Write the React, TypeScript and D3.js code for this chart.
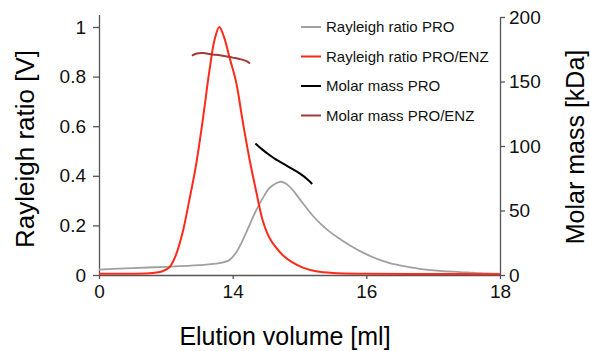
// App.tsx
import React, { useEffect, useRef } from 'react';
import * as d3 from 'd3';

// Elution volume [ml], Rayleigh ratio [V]
const rayleighPro: [number, number][] = [
  [12.0, 0.022], [12.5, 0.028], [13.0, 0.033], [13.5, 0.04], [13.8, 0.048],
  [13.95, 0.06], [14.05, 0.09], [14.15, 0.14], [14.25, 0.2], [14.35, 0.26],
  [14.45, 0.31], [14.55, 0.35], [14.65, 0.37], [14.72, 0.376], [14.8, 0.368],
  [14.9, 0.342], [15.0, 0.307], [15.1, 0.272], [15.2, 0.239], [15.32, 0.205],
  [15.45, 0.175], [15.6, 0.146], [15.75, 0.12], [15.95, 0.09], [16.15, 0.066],
  [16.35, 0.048], [16.6, 0.034], [16.8, 0.025], [17.1, 0.017], [17.4, 0.012],
  [17.7, 0.007], [18.0, 0.004],
];

const rayleighProEnz: [number, number][] = [
  [12.0, 0.005], [12.5, 0.005], [12.8, 0.008], [12.95, 0.015], [13.05, 0.03],
  [13.15, 0.08], [13.25, 0.17], [13.35, 0.3], [13.45, 0.44], [13.55, 0.62],
  [13.65, 0.82], [13.73, 0.95], [13.8, 1.0], [13.87, 0.96], [13.95, 0.88],
  [14.05, 0.78], [14.15, 0.62], [14.25, 0.47], [14.35, 0.34], [14.45, 0.22],
  [14.55, 0.15], [14.65, 0.11], [14.75, 0.08], [14.9, 0.05], [15.05, 0.03],
  [15.25, 0.015], [15.5, 0.008], [16.0, 0.005], [17.0, 0.004], [18.0, 0.003],
];

// Elution volume [ml], molar mass [kDa]
const molarPro: [number, number][] = [
  [14.34, 102], [14.45, 97], [14.55, 93], [14.65, 89.5], [14.75, 86.5],
  [14.85, 83.5], [14.95, 80.5], [15.05, 77], [15.12, 74], [15.19, 70.5],
];

const molarProEnz: [number, number][] = [
  [13.39, 170], [13.45, 171.5], [13.55, 172], [13.7, 171], [13.85, 170],
  [14.0, 168.5], [14.1, 167.5], [14.2, 166], [14.26, 164],
];

const xTicks = [12, 14, 16, 18];
const xTickLabels = ['0', '14', '16', '18'];
const leftTicks = [0, 0.2, 0.4, 0.6, 0.8, 1];
const rightTicks = [0, 50, 100, 150, 200];

const legendLabels = ['Rayleigh ratio PRO', 'Rayleigh ratio PRO/ENZ', 'Molar mass PRO', 'Molar mass PRO/ENZ'];
const legendColors = ['#a0a0a0', '#ff2a1a', '#000000', '#a33a35'];

const App = () => {
  const chartRef = useRef<HTMLDivElement>(null);

  useEffect(() => {
    d3.select(chartRef.current).selectAll('*').remove();

    const width = 590;
    const height = 351;
    const font = 'Arial, "Liberation Sans", sans-serif';
    const axisColor = '#555';

    const x = d3.scaleLinear().domain([12, 18]).range([99, 500]);
    const yLeft = d3.scaleLinear().domain([0, 1.05]).range([275, 14.6]);
    const yRight = d3.scaleLinear().domain([0, 200]).range([275, 17]);

    const svg = d3
      .select(chartRef.current)
      .append('svg')
      .attr('width', width)
      .attr('height', height)
      .style('font-family', font);

    // Axes
    const xAxis = svg
      .append('g')
      .attr('transform', 'translate(0,275)')
      .call(
        d3.axisBottom(x)
          .tickValues(xTicks)
          .tickFormat((d, i) => xTickLabels[i])
          .tickSize(4)
          .tickSizeOuter(0)
          .tickPadding(6)
      );

    const leftAxis = svg
      .append('g')
      .attr('transform', 'translate(99,0)')
      .call(d3.axisLeft(yLeft).tickValues(leftTicks).tickFormat(d3.format('~g')).tickSize(6).tickSizeOuter(0).tickPadding(7));

    const rightAxis = svg
      .append('g')
      .attr('transform', 'translate(500,0)')
      .call(d3.axisRight(yRight).tickValues(rightTicks).tickSize(5).tickSizeOuter(0).tickPadding(4));

    [xAxis, leftAxis, rightAxis].forEach((g) => {
      g.selectAll('path, line').attr('stroke', axisColor).attr('stroke-width', 1.3);
      g.selectAll('text').attr('fill', '#111').style('font-size', '19px').style('font-family', font);
    });

    // Lines
    const line = (yScale: d3.ScaleLinear<number, number>) =>
      d3
        .line<[number, number]>()
        .x((d) => x(d[0]))
        .y((d) => yScale(d[1]))
        .curve(d3.curveCatmullRom.alpha(0.5));

    const series: { data: [number, number][]; scale: d3.ScaleLinear<number, number>; color: string; w: number }[] = [
      { data: rayleighPro, scale: yLeft, color: legendColors[0], w: 1.8 },
      { data: rayleighProEnz, scale: yLeft, color: legendColors[1], w: 2 },
      { data: molarPro, scale: yRight, color: legendColors[2], w: 2 },
      { data: molarProEnz, scale: yRight, color: legendColors[3], w: 2 },
    ];

    series.forEach((s) => {
      svg
        .append('path')
        .datum(s.data)
        .attr('fill', 'none')
        .attr('stroke', s.color)
        .attr('stroke-width', s.w)
        .attr('d', line(s.scale));
    });

    // Legend
    const legend = svg
      .selectAll('.legend')
      .data(legendLabels)
      .enter()
      .append('g')
      .attr('class', 'legend')
      .attr('transform', (d, i) => `translate(301,${27 + i * 29.5})`);

    legend
      .append('line')
      .attr('x1', 0)
      .attr('x2', 20)
      .attr('stroke', (d, i) => legendColors[i])
      .attr('stroke-width', 2);

    legend
      .append('text')
      .attr('x', 25)
      .attr('dy', '0.35em')
      .style('font-size', '15px')
      .attr('fill', '#111')
      .text((d) => d);

    // Axis titles
    svg
      .append('text')
      .attr('x', 285)
      .attr('y', 345)
      .attr('text-anchor', 'middle')
      .style('font-size', '25px')
      .text('Elution volume [ml]');

    svg
      .append('text')
      .attr('transform', 'translate(34,149) rotate(-90)')
      .attr('text-anchor', 'middle')
      .style('font-size', '26px')
      .text('Rayleigh ratio [V]');

    svg
      .append('text')
      .attr('transform', 'translate(584,147) rotate(-90)')
      .attr('text-anchor', 'middle')
      .style('font-size', '25px')
      .text('Molar mass [kDa]');
  }, []);

  return <div ref={chartRef} style={{ position: 'absolute', left: 0, top: 0 }}></div>;
};

export default App;
